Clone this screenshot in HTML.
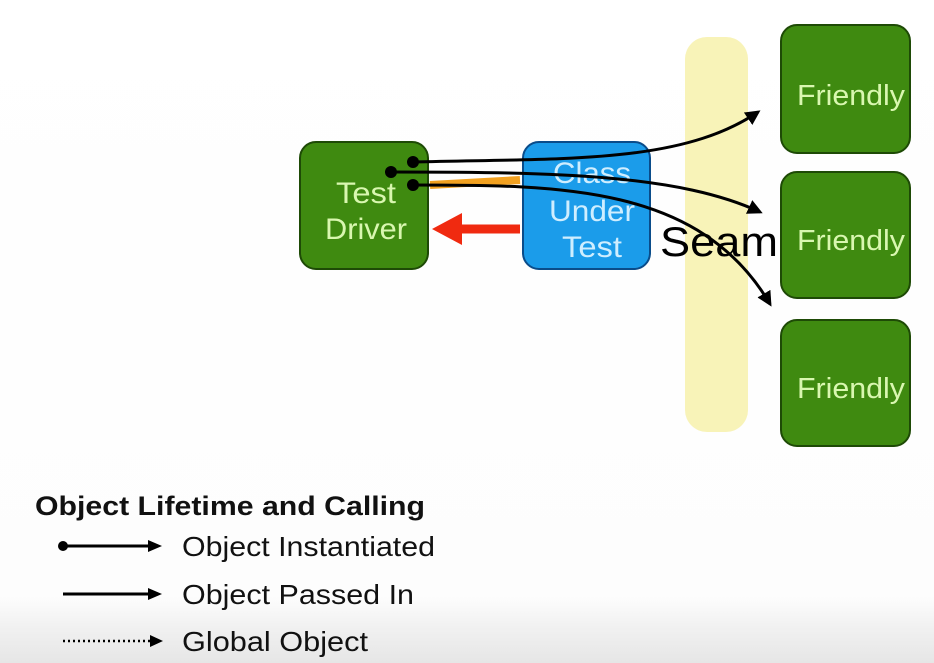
<!DOCTYPE html>
<html><head><meta charset="utf-8"><style>
html,body{margin:0;padding:0;width:934px;height:663px;overflow:hidden;background:#fff}
svg{display:block}
text{font-family:"Liberation Sans",Arial,sans-serif}
</style></head><body>
<svg width="934" height="663" viewBox="0 0 934 663" xmlns="http://www.w3.org/2000/svg">
<defs>
<linearGradient id="bg" x1="0" y1="0" x2="0" y2="1">
<stop offset="0" stop-color="#ffffff"/><stop offset="0.9" stop-color="#fdfdfd"/><stop offset="0.95" stop-color="#f0f0f0"/><stop offset="1" stop-color="#e6e6e6"/>
</linearGradient>
<marker id="ah" viewBox="0 0 10 10" refX="8" refY="5" markerWidth="5" markerHeight="5" orient="auto"><path d="M0,0 L10,5 L0,10 z" fill="#000"/></marker>
</defs>
<rect width="934" height="663" fill="url(#bg)"/>
<rect x="685" y="37" width="63" height="395" rx="22" fill="#f8f3b8"/>
<rect x="300" y="142" width="128" height="127" rx="16" fill="#3f8a10" stroke="#1e4a06" stroke-width="2"/>
<text x="366" y="203" font-size="30" fill="#d9f7b0" text-anchor="middle" textLength="60" lengthAdjust="spacingAndGlyphs">Test</text>
<text x="366" y="239" font-size="30" fill="#d9f7b0" text-anchor="middle" textLength="82" lengthAdjust="spacingAndGlyphs">Driver</text>
<rect x="523" y="142" width="127" height="127" rx="16" fill="#1b9cea" stroke="#0a4c8a" stroke-width="2"/>
<text x="592" y="183" font-size="30" fill="#cfeeff" text-anchor="middle" textLength="78" lengthAdjust="spacingAndGlyphs">Class</text>
<text x="592" y="221" font-size="30" fill="#cfeeff" text-anchor="middle" textLength="86" lengthAdjust="spacingAndGlyphs">Under</text>
<text x="592" y="257" font-size="30" fill="#cfeeff" text-anchor="middle" textLength="60" lengthAdjust="spacingAndGlyphs">Test</text>
<path d="M430,185 L520,180" stroke="#f2a120" stroke-width="8"/>
<path d="M520,229 L458,229" stroke="#f02a10" stroke-width="9"/>
<path d="M432,229 L462,213 L462,245 z" fill="#f02a10"/>
<g fill="#3f8a10" stroke="#1e4a06" stroke-width="2">
<rect x="781" y="25" width="129" height="128" rx="16"/>
<rect x="781" y="172" width="129" height="126" rx="16"/>
<rect x="781" y="320" width="129" height="126" rx="16"/>
</g>
<g font-size="29" fill="#d9f7b0">
<text x="797" y="105" textLength="108" lengthAdjust="spacingAndGlyphs">Friendly</text>
<text x="797" y="250" textLength="108" lengthAdjust="spacingAndGlyphs">Friendly</text>
<text x="797" y="398" textLength="108" lengthAdjust="spacingAndGlyphs">Friendly</text>
</g>
<text x="660" y="256" font-size="42" fill="#000" textLength="118" lengthAdjust="spacingAndGlyphs">Seam</text>
<g stroke="#000" stroke-width="3" fill="none" marker-end="url(#ah)">
<path d="M413,162 C560,158 680,165 758,112"/>
<path d="M391,172 C560,172 680,175 760,212"/>
<path d="M413,185 C560,185 700,185 770,304"/>
</g>
<circle cx="413" cy="162" r="6"/><circle cx="391" cy="172" r="6"/><circle cx="413" cy="185" r="6"/>
<text x="35" y="515" font-size="27" font-weight="bold" fill="#111" textLength="390" lengthAdjust="spacingAndGlyphs">Object Lifetime and Calling</text>
<circle cx="63" cy="546" r="5"/>
<path d="M63,546 L150,546" stroke="#000" stroke-width="3"/><path d="M148,540 L162,546 L148,552 z"/>
<text x="182" y="556" font-size="28" fill="#111" textLength="253" lengthAdjust="spacingAndGlyphs">Object Instantiated</text>
<path d="M63,594 L150,594" stroke="#000" stroke-width="3"/><path d="M148,588 L162,594 L148,600 z"/>
<text x="182" y="604" font-size="28" fill="#111" textLength="232" lengthAdjust="spacingAndGlyphs">Object Passed In</text>
<path d="M63,641 L150,641" stroke="#000" stroke-width="2.5" stroke-dasharray="2,3"/><path d="M150,635 L163,641 L150,647 z"/>
<text x="182" y="651" font-size="28" fill="#111" textLength="186" lengthAdjust="spacingAndGlyphs">Global Object</text>
</svg>
</body></html>
